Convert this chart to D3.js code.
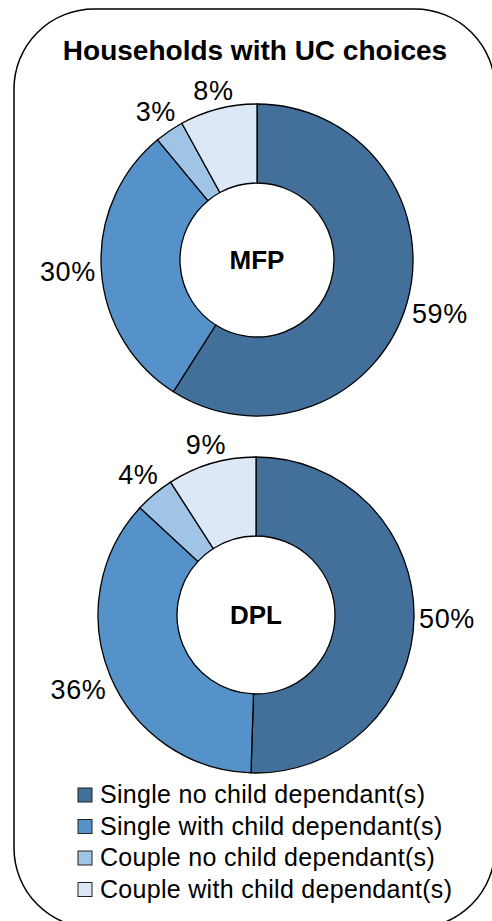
<!DOCTYPE html>
<html>
<head>
<meta charset="utf-8">
<title>Households with UC choices</title>
<script src="https://d3js.org/d3.v7.min.js"></script>
<style>
body { margin: 0; background: white; }
text { font-family: Arial, "Liberation Sans", sans-serif; fill: #000; }
</style>
</head>
<body>
<div id="chart"></div>
<script>
// data
var categories = ["Single no child dependant(s)", "Single with child dependant(s)",
                  "Couple no child dependant(s)", "Couple with child dependant(s)"];
var schemes = ["MFP", "DPL"];
var mfpValues = [59, 30, 3, 8];
var dplValues = [50, 36, 4, 9];
var title = "Households with UC choices";

var width = 492, height = 921;

var colour = d3.scaleOrdinal()
    .domain(categories)
    .range(["#43709b", "#5592c9", "#a0c4e6", "#dce8f5"]);

// layout of the two donuts
var layout = [
    { cx: 257, cy: 260, outer: 156, inner: 77 },
    { cx: 256, cy: 615, outer: 158, inner: 79 }
];

var svg = d3.select("#chart").append("svg")
    .attr("width", width)
    .attr("height", height);

// rounded frame
svg.append("rect")
    .attr("x", 14).attr("y", 9)
    .attr("width", 481).attr("height", 919)
    .attr("rx", 80).attr("ry", 80)
    .attr("fill", "white")
    .attr("stroke", "#000")
    .attr("stroke-width", 1.5);

svg.append("text")
    .attr("x", 255).attr("y", 60)
    .attr("text-anchor", "middle")
    .style("font-size", "28px")
    .style("font-weight", "bold")
    .text(title);

var pie = d3.pie().sort(null).value(function(d) { return d.value; });

[mfpValues, dplValues].forEach(function(values, i) {
    var L = layout[i];
    var rows = categories.map(function(c, j) { return { cat: c, value: values[j] }; });
    var arc = d3.arc().innerRadius(L.inner).outerRadius(L.outer);

    var g = svg.append("g").attr("transform", "translate(" + L.cx + "," + L.cy + ")");
    var arcs = pie(rows);

    g.selectAll("path")
        .data(arcs)
        .enter().append("path")
        .attr("d", arc)
        .attr("fill", function(d) { return colour(d.data.cat); })
        .attr("stroke", "#000")
        .attr("stroke-width", 1.3);

    // percentage labels outside each slice
    g.selectAll("text.pct")
        .data(arcs)
        .enter().append("text")
        .attr("class", "pct")
        .style("font-size", "27px")
        .style("letter-spacing", "0.6px")
        .text(function(d) { return d.data.value + "%"; })
        .each(function(d) {
            var t = d3.select(this);
            var w = this.getComputedTextLength();
            var h = 19;
            var a = (d.startAngle + d.endAngle) / 2;
            var sx = Math.sin(a), sy = -Math.cos(a);
            var dist = L.outer + 5 + 0.5 * (w * Math.abs(sx) + h * Math.abs(sy));
            t.attr("x", dist * sx)
             .attr("y", dist * sy + h / 2)
             .attr("text-anchor", "middle");
        });

    g.append("text")
        .attr("x", 0).attr("y", 9)
        .attr("text-anchor", "middle")
        .style("font-size", "26px")
        .style("font-weight", "bold")
        .text(schemes[i]);
});

// legend
var legend = svg.append("g").attr("transform", "translate(78,788)");
var item = legend.selectAll("g")
    .data(categories)
    .enter().append("g")
    .attr("transform", function(d, i) { return "translate(0," + (i * 31.5) + ")"; });

item.append("rect")
    .attr("width", 14).attr("height", 14)
    .attr("fill", function(d) { return colour(d); })
    .attr("stroke", "#222")
    .attr("stroke-width", 1);

item.append("text")
    .attr("x", 22).attr("y", 15)
    .style("font-size", "25px")
    .style("letter-spacing", "0.3px")
    .text(function(d) { return d; });
</script>
</body>
</html>
